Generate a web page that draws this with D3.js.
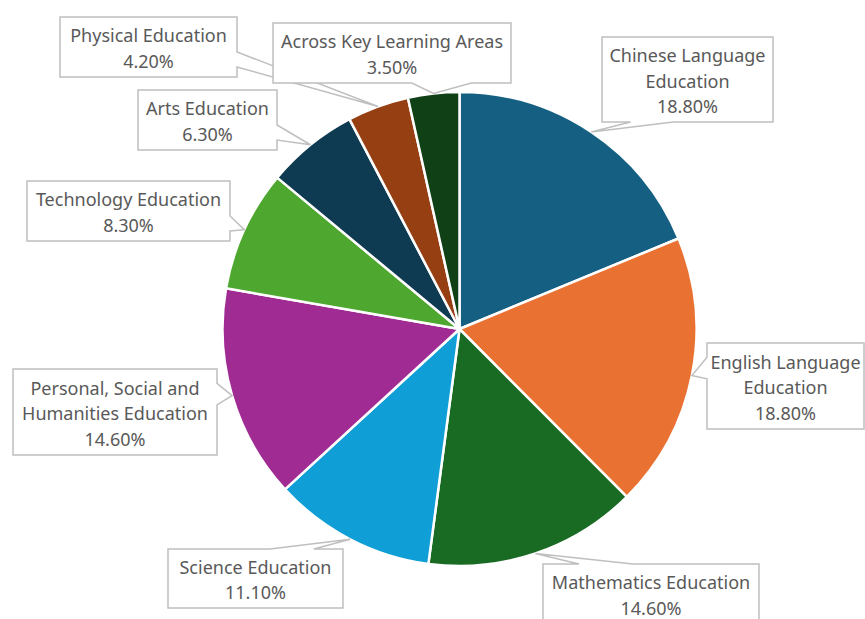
<!DOCTYPE html>
<html>
<head>
<meta charset="utf-8">
<script src="https://cdn.jsdelivr.net/npm/d3@7"></script>
<style>
  body { margin: 0; background: #fff; }
  svg { display: block; font-family: "Noto Sans", Lato, sans-serif; }
</style>
</head>
<body>
<div class="piechart"></div>
<script>
// data (percent share per learning area)
var categories = ["Chinese Language Education", "English Language Education", "Mathematics Education",
                  "Science Education", "Personal, Social and Humanities Education", "Technology Education",
                  "Arts Education", "Physical Education", "Across Key Learning Areas"];
var values = [18.8, 18.8, 14.6, 11.1, 14.6, 8.3, 6.3, 4.2, 3.5];
var colors = ["#156082", "#e97132", "#196b24", "#0f9ed5", "#a02b93", "#4ea72e", "#0e3a52", "#953f12", "#0f4016"];

// callout boxes: left, top, width, height, words on first line (0 = no wrap)
var boxes = [
  {x: 602, y: 37,  w: 171, h: 85, split: 2},
  {x: 707, y: 343, w: 157, h: 86, split: 2},
  {x: 543, y: 564, w: 216, h: 60, split: 0},
  {x: 168, y: 549, w: 175, h: 59, split: 0},
  {x: 13,  y: 369, w: 204, h: 86, split: 3},
  {x: 27,  y: 181, w: 203, h: 60, split: 0},
  {x: 138, y: 90,  w: 139, h: 60, split: 0},
  {x: 60,  y: 17,  w: 177, h: 60, split: 0},
  {x: 273, y: 23,  w: 238, h: 60, split: 0}
];

var w = 865;
var h = 619;
var cx = 459.5, cy = 329, r = 237;

var svg = d3.select(".piechart")
            .append("svg")
            .attr("width", w)
            .attr("height", h);

var pie = d3.pie().sort(null).value(function(d) { return d; });
var arcs = pie(values);
var arc = d3.arc().innerRadius(0).outerRadius(r);
var edge = d3.arc().innerRadius(r).outerRadius(r); // point on the rim for callout tips

var g = svg.append("g").attr("transform", `translate(${cx},${cy})`);
g.selectAll("path")
 .data(arcs)
 .enter()
 .append("path")
 .attr("d", arc)
 .attr("fill", function(d, i) { return colors[i]; })
 .attr("stroke", "#fff")
 .attr("stroke-width", 2.5)
 .attr("stroke-linejoin", "round");

// wedge-rect callout like office charts
function callout(b, tx, ty) {
    var hc = b.x + b.w / 2, vc = b.y + b.h / 2;
    var dx = tx - hc, dy = ty - vc;
    var dq = dx * b.h / b.w;
    var x1 = b.x + b.w * (dx > 0 ? 7 : 2) / 12, x2 = b.x + b.w * (dx > 0 ? 10 : 5) / 12;
    var y1 = b.y + b.h * (dy > 0 ? 7 : 2) / 12, y2 = b.y + b.h * (dy > 0 ? 10 : 5) / 12;
    var L = b.x, R = b.x + b.w, T = b.y, B = b.y + b.h;
    var vert = Math.abs(dy) > Math.abs(dq);
    var p = d3.path();
    p.moveTo(L, T);
    if (vert && dy < 0) { p.lineTo(x1, T); p.lineTo(tx, ty); p.lineTo(x2, T); }
    p.lineTo(R, T);
    if (!vert && dx > 0) { p.lineTo(R, y1); p.lineTo(tx, ty); p.lineTo(R, y2); }
    p.lineTo(R, B);
    if (vert && dy > 0) { p.lineTo(x2, B); p.lineTo(tx, ty); p.lineTo(x1, B); }
    p.lineTo(L, B);
    if (!vert && dx < 0) { p.lineTo(L, y2); p.lineTo(tx, ty); p.lineTo(L, y1); }
    p.closePath();
    return p.toString();
}

var fmt = d3.format(".2f");
var lineH = 25.5;

arcs.forEach(function(d, i) {
    var b = boxes[i];
    var c = edge.centroid(d);
    var tx = cx + c[0], ty = cy + c[1];
    var lab = svg.append("g").attr("class", "label");
    lab.append("path")
       .attr("d", callout(b, tx, ty))
       .attr("fill", "#fff")
       .attr("stroke", "#bfbfbf")
       .attr("stroke-width", 1.5);
    var words = categories[i].split(" ");
    var lines = b.split ? [words.slice(0, b.split).join(" "), words.slice(b.split).join(" ")] : [categories[i]];
    lines.push(fmt(values[i]) + "%");
    lines.forEach(function(t, k) {
        lab.append("text")
           .attr("x", b.x + b.w / 2)
           .attr("y", b.y + b.h / 2 + (k - (lines.length - 1) / 2) * lineH + 1)
           .attr("text-anchor", "middle")
           .attr("dominant-baseline", "central")
           .attr("font-size", 18)
           .attr("fill", "#595959")
           .text(t);
    });
});
</script>
</body>
</html>
